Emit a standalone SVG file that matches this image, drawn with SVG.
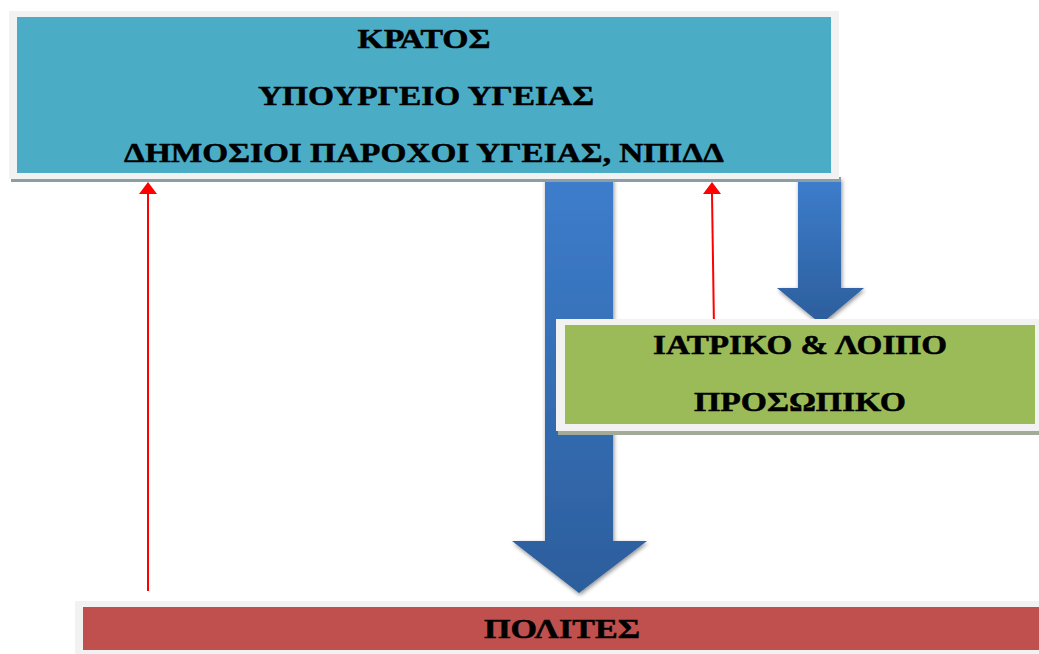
<svg xmlns="http://www.w3.org/2000/svg" width="1039" height="654" viewBox="0 0 1039 654">
<defs>
<linearGradient id="gBig" x1="0" y1="0" x2="0" y2="1">
<stop offset="0" stop-color="#3d7dcc"/>
<stop offset="1" stop-color="#2c5e9c"/>
</linearGradient>
<linearGradient id="gSmall" x1="0" y1="0" x2="0" y2="1">
<stop offset="0" stop-color="#3d7dcc"/>
<stop offset="1" stop-color="#2c5e9c"/>
</linearGradient>
<filter id="soft" x="-20%" y="-10%" width="140%" height="130%">
<feGaussianBlur in="SourceAlpha" stdDeviation="2"/>
<feOffset dx="1" dy="2" result="b"/>
<feComponentTransfer><feFuncA type="linear" slope="0.45"/></feComponentTransfer>
<feMerge><feMergeNode/><feMergeNode in="SourceGraphic"/></feMerge>
</filter>
</defs>
<style>
.frame{fill:#f2f2f2}
.shadow{fill:#8b9ea6}
.label{font-family:"Liberation Serif","Times New Roman",serif;font-weight:bold;font-size:28px;fill:#000;stroke:#000;stroke-width:0.5;text-anchor:middle}
.red{stroke:#ff0000;stroke-width:2;fill:none}
</style>

<g id="connectors">
<path d="M545,178 L613,178 L613,541 L647,541 L579,593 L512,541 L545,541 Z" fill="url(#gBig)" filter="url(#soft)"/>
<path d="M798,178 L841,178 L841,288 L864,288 L821,324 L777,288 L798,288 Z" fill="url(#gSmall)" filter="url(#soft)"/>
<line class="red" x1="148" y1="591" x2="148" y2="194"/>
<path d="M148,182 L157,194 L139,194 Z" fill="#ff0000"/>
<line class="red" x1="714" y1="328" x2="712" y2="194"/>
<path d="M712,182 L721,194 L703,194 Z" fill="#ff0000"/>
</g>

<g id="node-state">
<rect class="shadow" x="11" y="177" width="830" height="5"/>
<rect class="frame" x="9" y="11" width="830" height="168"/>
<rect x="17" y="17" width="814" height="156" fill="#4bacc6"/>
<text class="label" x="424" y="48" textLength="133" lengthAdjust="spacingAndGlyphs">ΚΡΑΤΟΣ</text>
<text class="label" x="426" y="105" textLength="336" lengthAdjust="spacingAndGlyphs">ΥΠΟΥΡΓΕΙΟ ΥΓΕΙΑΣ</text>
<text class="label" x="424" y="162" textLength="600" lengthAdjust="spacingAndGlyphs">ΔΗΜΟΣΙΟΙ ΠΑΡΟΧΟΙ ΥΓΕΙΑΣ, ΝΠΙΔΔ</text>
</g>

<g id="node-staff">
<rect x="558" y="429" width="481" height="6" fill="#a3ab98"/>
<rect class="frame" x="556" y="319" width="483" height="112"/>
<rect x="565" y="325" width="470" height="99" fill="#9bbb59"/>
<text class="label" x="800" y="354" textLength="294" lengthAdjust="spacingAndGlyphs">ΙΑΤΡΙΚΟ &amp; ΛΟΙΠΟ</text>
<text class="label" x="800" y="411" textLength="212" lengthAdjust="spacingAndGlyphs">ΠΡΟΣΩΠΙΚΟ</text>
</g>

<g id="node-citizens">
<rect class="frame" x="75" y="601" width="964" height="53"/>
<rect x="83" y="607" width="956" height="43" fill="#c0504d"/>
<text class="label" x="562" y="638" textLength="156" lengthAdjust="spacingAndGlyphs">ΠΟΛΙΤΕΣ</text>
</g>
</svg>
